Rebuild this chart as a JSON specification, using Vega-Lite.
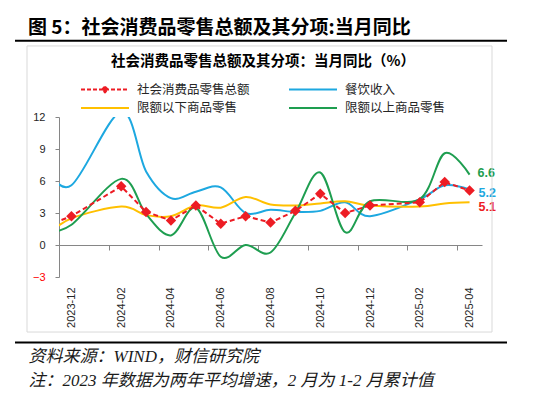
{
  "$schema": "https://vega.github.io/schema/vega-lite/v6.json",
  "width": 423,
  "height": 160,
  "autosize": {"type": "none"},
  "padding": {"left": 59, "top": 117, "right": 55, "bottom": 116},
  "background": "#ffffff",
  "config": {"view": {"stroke": null}, "axis": {"grid": false, "labelOverlap": false}},
  "title": {
    "text": "图 5：社会消费品零售总额及其分项:当月同比",
    "anchor": "start",
    "frame": "group",
    "dx": -31,
    "offset": 2,
    "font": "Noto Sans CJK SC",
    "fontSize": 19,
    "fontWeight": "bold",
    "color": "#000000"
  },
  "datasets": {
    "main": [
      {"month": "2023-11", "idx": -1, "series": "餐饮收入", "value": 7.3},
      {"month": "2023-12", "idx": 0, "series": "餐饮收入", "value": 5.6},
      {"month": "2024-02", "idx": 2, "series": "餐饮收入", "value": 12.5},
      {"month": "2024-03", "idx": 3, "series": "餐饮收入", "value": 6.9},
      {"month": "2024-04", "idx": 4, "series": "餐饮收入", "value": 4.4},
      {"month": "2024-05", "idx": 5, "series": "餐饮收入", "value": 5.0},
      {"month": "2024-06", "idx": 6, "series": "餐饮收入", "value": 5.4},
      {"month": "2024-07", "idx": 7, "series": "餐饮收入", "value": 3.0},
      {"month": "2024-08", "idx": 8, "series": "餐饮收入", "value": 3.3},
      {"month": "2024-09", "idx": 9, "series": "餐饮收入", "value": 3.1},
      {"month": "2024-10", "idx": 10, "series": "餐饮收入", "value": 3.2},
      {"month": "2024-11", "idx": 11, "series": "餐饮收入", "value": 4.0},
      {"month": "2024-12", "idx": 12, "series": "餐饮收入", "value": 2.7},
      {"month": "2025-02", "idx": 14, "series": "餐饮收入", "value": 4.3},
      {"month": "2025-03", "idx": 15, "series": "餐饮收入", "value": 5.6},
      {"month": "2025-04", "idx": 16, "series": "餐饮收入", "value": 5.2},
      {"month": "2023-11", "idx": -1, "series": "限额以下商品零售", "value": 0.9},
      {"month": "2023-12", "idx": 0, "series": "限额以下商品零售", "value": 2.5},
      {"month": "2024-02", "idx": 2, "series": "限额以下商品零售", "value": 3.6},
      {"month": "2024-03", "idx": 3, "series": "限额以下商品零售", "value": 2.8},
      {"month": "2024-04", "idx": 4, "series": "限额以下商品零售", "value": 2.7},
      {"month": "2024-05", "idx": 5, "series": "限额以下商品零售", "value": 3.7},
      {"month": "2024-06", "idx": 6, "series": "限额以下商品零售", "value": 3.5},
      {"month": "2024-07", "idx": 7, "series": "限额以下商品零售", "value": 4.5},
      {"month": "2024-08", "idx": 8, "series": "限额以下商品零售", "value": 3.8},
      {"month": "2024-09", "idx": 9, "series": "限额以下商品零售", "value": 3.7},
      {"month": "2024-10", "idx": 10, "series": "限额以下商品零售", "value": 3.9},
      {"month": "2024-11", "idx": 11, "series": "限额以下商品零售", "value": 4.1},
      {"month": "2024-12", "idx": 12, "series": "限额以下商品零售", "value": 3.7},
      {"month": "2025-02", "idx": 14, "series": "限额以下商品零售", "value": 3.6},
      {"month": "2025-03", "idx": 15, "series": "限额以下商品零售", "value": 3.9},
      {"month": "2025-04", "idx": 16, "series": "限额以下商品零售", "value": 4.0},
      {"month": "2023-11", "idx": -1, "series": "限额以上商品零售", "value": 1.2},
      {"month": "2023-12", "idx": 0, "series": "限额以上商品零售", "value": 1.9},
      {"month": "2024-02", "idx": 2, "series": "限额以上商品零售", "value": 6.2},
      {"month": "2024-03", "idx": 3, "series": "限额以上商品零售", "value": 2.9},
      {"month": "2024-04", "idx": 4, "series": "限额以上商品零售", "value": 0.9},
      {"month": "2024-05", "idx": 5, "series": "限额以上商品零售", "value": 3.5},
      {"month": "2024-06", "idx": 6, "series": "限额以上商品零售", "value": -1.1},
      {"month": "2024-07", "idx": 7, "series": "限额以上商品零售", "value": 0.0},
      {"month": "2024-08", "idx": 8, "series": "限额以上商品零售", "value": -0.7},
      {"month": "2024-09", "idx": 9, "series": "限额以上商品零售", "value": 3.0},
      {"month": "2024-10", "idx": 10, "series": "限额以上商品零售", "value": 6.8},
      {"month": "2024-11", "idx": 11, "series": "限额以上商品零售", "value": 1.2},
      {"month": "2024-12", "idx": 12, "series": "限额以上商品零售", "value": 4.1},
      {"month": "2025-02", "idx": 14, "series": "限额以上商品零售", "value": 4.3},
      {"month": "2025-03", "idx": 15, "series": "限额以上商品零售", "value": 8.6},
      {"month": "2025-04", "idx": 16, "series": "限额以上商品零售", "value": 6.6},
      {"month": "2023-11", "idx": -1, "series": "社会消费品零售总额", "value": 1.8},
      {"month": "2023-12", "idx": 0, "series": "社会消费品零售总额", "value": 2.7},
      {"month": "2024-02", "idx": 2, "series": "社会消费品零售总额", "value": 5.5},
      {"month": "2024-03", "idx": 3, "series": "社会消费品零售总额", "value": 3.1},
      {"month": "2024-04", "idx": 4, "series": "社会消费品零售总额", "value": 2.3},
      {"month": "2024-05", "idx": 5, "series": "社会消费品零售总额", "value": 3.7},
      {"month": "2024-06", "idx": 6, "series": "社会消费品零售总额", "value": 2.0},
      {"month": "2024-07", "idx": 7, "series": "社会消费品零售总额", "value": 2.7},
      {"month": "2024-08", "idx": 8, "series": "社会消费品零售总额", "value": 2.1},
      {"month": "2024-09", "idx": 9, "series": "社会消费品零售总额", "value": 3.2},
      {"month": "2024-10", "idx": 10, "series": "社会消费品零售总额", "value": 4.8},
      {"month": "2024-11", "idx": 11, "series": "社会消费品零售总额", "value": 3.0},
      {"month": "2024-12", "idx": 12, "series": "社会消费品零售总额", "value": 3.7},
      {"month": "2025-02", "idx": 14, "series": "社会消费品零售总额", "value": 4.0},
      {"month": "2025-03", "idx": 15, "series": "社会消费品零售总额", "value": 5.9},
      {"month": "2025-04", "idx": 16, "series": "社会消费品零售总额", "value": 5.1}
    ]
  },
  "layer": [
    {
      "data": {"name": "main"},
      "transform": [{"filter": "datum.series !== '社会消费品零售总额'"}],
      "mark": {"type": "line", "interpolate": "cardinal", "strokeWidth": 2, "clip": true},
      "encoding": {
        "x": {
          "field": "idx", "type": "quantitative",
          "scale": {"domain": [-0.5, 16.5], "nice": false, "zero": false},
          "axis": {
            "values": [0, 2, 4, 6, 8, 10, 12, 14, 16],
            "tickCount": 20,
            "offset": -32,
            "domainColor": "#868686",
            "domainWidth": 1,
            "tickColor": "#868686",
            "tickSize": 5,
            "tickOffset": -12.44,
            "labelOffset": 12.44,
            "labelAngle": -90,
            "labelPadding": 37,
            "labelOverlap": false,
            "labelFont": "Liberation Sans",
            "labelFontSize": 11,
            "labelColor": "#262626",
            "labelExpr": "['2023-12','2024-02','2024-04','2024-06','2024-08','2024-10','2024-12','2025-02','2025-04'][round(datum.value/2)]",
            "title": ["资料来源：WIND，财信研究院", "注：2023 年数据为两年平均增速，2 月为 1-2 月累计值"],
            "titleFont": "Liberation Serif, Noto Sans CJK SC",
            "titleFontStyle": "italic",
            "titleFontWeight": "normal",
            "titleFontSize": 17,
            "titleColor": "#1a1a1a",
            "titleAlign": "left",
            "titleAnchor": "start",
            "titleBaseline": "alphabetic",
            "titleLineHeight": 24,
            "titleLimit": 0,
            "titleX": -31,
            "titleY": 116
          }
        },
        "y": {
          "field": "value", "type": "quantitative",
          "scale": {"domain": [-3, 12], "nice": false, "zero": false},
          "axis": {
            "values": [-3, 0, 3, 6, 9, 12],
            "tickCount": 20,
            "domainColor": "#868686",
            "tickColor": "#868686",
            "tickSize": 4,
            "labelPadding": 10,
            "labelOverlap": false,
            "labelFont": "Liberation Sans",
            "labelFontSize": 11,
            "labelColor": {"condition": {"test": "datum.value < 0", "value": "#ff0000"}, "value": "#262626"},
            "title": null
          }
        },
        "color": {
          "field": "series", "type": "nominal",
          "scale": {
            "domain": ["社会消费品零售总额", "餐饮收入", "限额以下商品零售", "限额以上商品零售"],
            "range": ["#ED1C24", "#1DA8E0", "#FFC000", "#1E9E50"]
          },
          "legend": {
            "orient": "none",
            "direction": "horizontal",
            "legendX": 21,
            "legendY": -62,
            "columns": 2,
            "padding": 0,
            "title": "社会消费品零售总额及其分项：当月同比（%）",
            "titleLimit": 0,
            "titleFont": "Noto Sans CJK SC",
            "titleFontSize": 14.5,
            "titleFontWeight": "bold",
            "titleColor": "#000000",
            "titleAnchor": "middle",
            "titlePadding": 13,
            "labelFont": "Noto Sans CJK SC",
            "labelFontSize": 12.5,
            "labelColor": "#262626",
            "labelLimit": 0,
            "labelOffset": 7,
            "symbolType": "stroke",
            "symbolSize": 2304,
            "symbolStrokeWidth": 2,
            "clipHeight": 14,
            "columnPadding": 38,
            "rowPadding": 4.4,
            "encode": {
              "symbols": {
                "update": {
                  "shape": {"signal": "datum.value === '社会消费品零售总额' ? 'M-1,0H1M0,-0.12L0.12,0L0,0.12L-0.12,0Z' : 'stroke'"},
                  "strokeDash": {"signal": "datum.value === '社会消费品零售总额' ? [4, 2] : [1, 0]"},
                  "fill": {"signal": "datum.value === '社会消费品零售总额' ? '#ED1C24' : 'transparent'"}
                }
              }
            }
          }
        }
      }
    },
    {
      "data": {"name": "main"},
      "transform": [{"filter": "datum.series === '社会消费品零售总额'"}],
      "mark": {"type": "line", "strokeWidth": 2, "strokeDash": [5, 3], "clip": true},
      "encoding": {
        "x": {"field": "idx", "type": "quantitative", "scale": {"domain": [-0.5, 16.5], "nice": false, "zero": false}},
        "y": {"field": "value", "type": "quantitative", "scale": {"domain": [-3, 12], "nice": false, "zero": false}},
        "color": {"field": "series", "type": "nominal"}
      }
    },
    {
      "data": {"name": "main"},
      "transform": [{"filter": "datum.series === '社会消费品零售总额' && datum.idx >= 0"}],
      "mark": {"type": "point", "shape": "diamond", "filled": true, "opacity": 1, "size": 110, "clip": true},
      "encoding": {
        "x": {"field": "idx", "type": "quantitative", "scale": {"domain": [-0.5, 16.5], "nice": false, "zero": false}},
        "y": {"field": "value", "type": "quantitative", "scale": {"domain": [-3, 12], "nice": false, "zero": false}},
        "color": {"field": "series", "type": "nominal"}
      }
    },
    {
      "data": {"name": "main"},
      "transform": [{"filter": "datum.series === '限额以上商品零售' && datum.idx === 16"}],
      "mark": {"type": "text", "align": "left", "baseline": "middle", "dx": 8, "dy": -2, "font": "Liberation Sans", "fontSize": 12.5, "fontWeight": "bold", "color": "#1E9E50"},
      "encoding": {
        "x": {"field": "idx", "type": "quantitative", "scale": {"domain": [-0.5, 16.5], "nice": false, "zero": false}},
        "y": {"field": "value", "type": "quantitative", "scale": {"domain": [-3, 12], "nice": false, "zero": false}},
        "text": {"field": "value", "type": "quantitative", "format": ".1f"}
      }
    },
    {
      "data": {"name": "main"},
      "transform": [{"filter": "datum.series === '餐饮收入' && datum.idx === 16"}],
      "mark": {"type": "text", "align": "left", "baseline": "middle", "dx": 9, "dy": 3, "font": "Liberation Sans", "fontSize": 12.5, "fontWeight": "bold", "color": "#1DA8E0"},
      "encoding": {
        "x": {"field": "idx", "type": "quantitative", "scale": {"domain": [-0.5, 16.5], "nice": false, "zero": false}},
        "y": {"field": "value", "type": "quantitative", "scale": {"domain": [-3, 12], "nice": false, "zero": false}},
        "text": {"field": "value", "type": "quantitative", "format": ".1f"}
      }
    },
    {
      "data": {"name": "main"},
      "transform": [{"filter": "datum.series === '社会消费品零售总额' && datum.idx === 16"}],
      "mark": {"type": "text", "align": "left", "baseline": "middle", "dx": 9, "dy": 16, "font": "Liberation Sans", "fontSize": 12.5, "fontWeight": "bold", "color": "#ED1C24"},
      "encoding": {
        "x": {"field": "idx", "type": "quantitative", "scale": {"domain": [-0.5, 16.5], "nice": false, "zero": false}},
        "y": {"field": "value", "type": "quantitative", "scale": {"domain": [-3, 12], "nice": false, "zero": false}},
        "text": {"field": "value", "type": "quantitative", "format": ".1f"}
      }
    },
    {
      "data": {"values": [{}]},
      "mark": {"type": "rect", "fill": null, "stroke": "#d9d9d9", "strokeWidth": 1, "clip": false},
      "encoding": {
        "x": {"datum": -1.786, "type": "quantitative", "scale": {"domain": [-0.5, 16.5], "nice": false, "zero": false}},
        "x2": {"datum": 16.902},
        "y": {"datum": 18.66, "type": "quantitative", "scale": {"domain": [-3, 12], "nice": false, "zero": false}},
        "y2": {"datum": -8.16}
      }
    },
    {
      "data": {"values": [{}]},
      "mark": {"type": "rule", "color": "#000000", "strokeWidth": 2, "clip": false},
      "encoding": {
        "x": {"datum": -2.268, "type": "quantitative", "scale": {"domain": [-0.5, 16.5], "nice": false, "zero": false}},
        "x2": {"datum": 17.505},
        "y": {"datum": 19.15, "type": "quantitative", "scale": {"domain": [-3, 12], "nice": false, "zero": false}}
      }
    },
    {
      "data": {"values": [{}]},
      "mark": {"type": "rule", "color": "#000000", "strokeWidth": 2, "clip": false},
      "encoding": {
        "x": {"datum": -2.268, "type": "quantitative", "scale": {"domain": [-0.5, 16.5], "nice": false, "zero": false}},
        "x2": {"datum": 17.505},
        "y": {"datum": -9.14, "type": "quantitative", "scale": {"domain": [-3, 12], "nice": false, "zero": false}}
      }
    }
  ]
}
